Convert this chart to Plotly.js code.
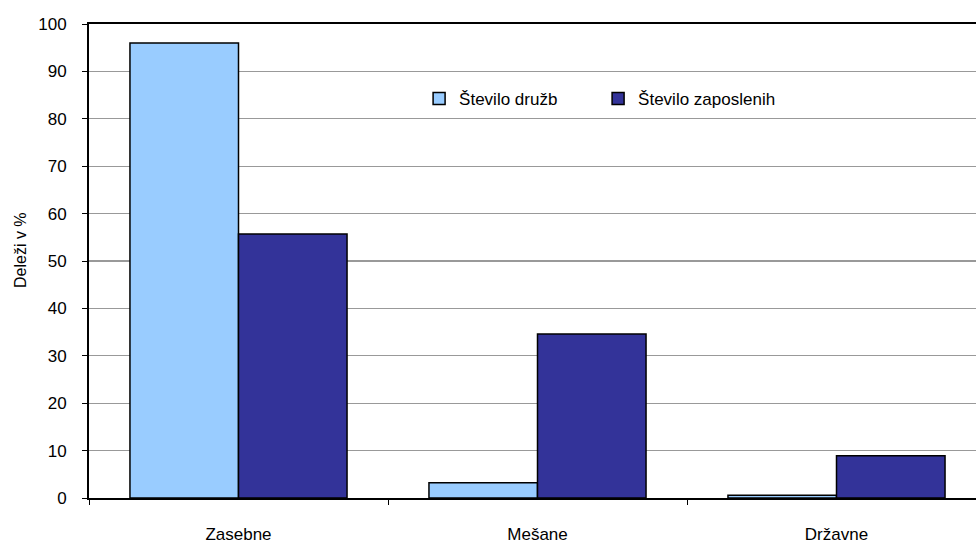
<!DOCTYPE html>
<html><head><meta charset="utf-8">
<script src="https://cdn.plot.ly/plotly-3.0.1.min.js"></script>
<style>html,body{margin:0;padding:0;background:#fff;overflow:hidden}#w{width:976px;height:543px;overflow:hidden}#c{width:986px;height:543px}</style>
</head><body><div id="w"><div id="c"></div></div>
<script>
const categories = ["Zasebne", "Mešane", "Državne"];
const steviloDruzb = [96.0, 3.2, 0.6];
const steviloZaposlenih = [55.7, 34.6, 8.9];
const seriesNames = ["Število družb", "Število zaposlenih"];
const yTicks = [0,10,20,30,40,50,60,70,80,90,100];
const yTitle = "Deleži v %";

const idx = categories.map((c,i)=>i);
const fam = "Liberation Sans, Arial, sans-serif";
const font = {family: fam, size: 17, color: "#000"};
const traces = [
  {type:"bar", x: idx, y: steviloDruzb, name: seriesNames[0],
   marker:{color:"#99CCFF", line:{color:"#000", width:1.5}}},
  {type:"bar", x: idx, y: steviloZaposlenih, name: seriesNames[1],
   marker:{color:"#333399", line:{color:"#000", width:1.5}}},
  {type:"scatter", x: idx, y: [null,null,null], xaxis:"x2", showlegend:false, hoverinfo:"skip"}
];
const boundaries = categories.map((c,i)=>i-0.5);
const layout = {
  width: 986, height: 543,
  margin: {l: 89, r: 0, t: 24, b: 45},
  paper_bgcolor: "#fff", plot_bgcolor: "#fff",
  font: font,
  barmode: "group", bargap: 0.274, bargroupgap: 0,
  showlegend: true,
  legend: {orientation: "h", x: 0.368, y: 0.88, xanchor: "left", yanchor: "top",
           font: {family: fam, size: 17}, itemwidth: 30, entrywidth: 134,
           bgcolor: "rgba(0,0,0,0)"},
  xaxis: {range: [-0.5, 2.5], tickvals: idx, ticktext: categories,
          ticks: "outside", ticklen: 20, tickcolor: "rgba(0,0,0,0)",
          showline: true, linecolor: "#000", linewidth: 2, mirror: true,
          showgrid: false, zeroline: false, fixedrange: true, tickfont: font},
  xaxis2: {overlaying: "x", matches: "x", range: [-0.5, 2.5], tickvals: boundaries,
           ticktext: boundaries.map(()=>""), ticks: "outside", ticklen: 6, tickcolor: "#000",
           showline: false, showgrid: false, zeroline: false, side: "bottom", anchor: "y"},
  yaxis: {range: [0, 100], tickvals: yTicks, ticks: "outside", ticklen: 5, tickcolor: "#000",
          ticklabelstandoff: 12,
          showline: true, linecolor: "#000", linewidth: 2,
          showgrid: true, gridcolor: "#999", gridwidth: 1.3, zeroline: false,
          tickfont: font},
  annotations: [{text: yTitle, textangle: -90, xref: "paper", yref: "paper",
                 x: -0.077, y: 0.523, xanchor: "center", yanchor: "middle",
                 showarrow: false, font: {family: fam, size: 16, color: "#000"}}]
};
Plotly.newPlot("c", traces, layout, {staticPlot: true});
</script></body></html>
